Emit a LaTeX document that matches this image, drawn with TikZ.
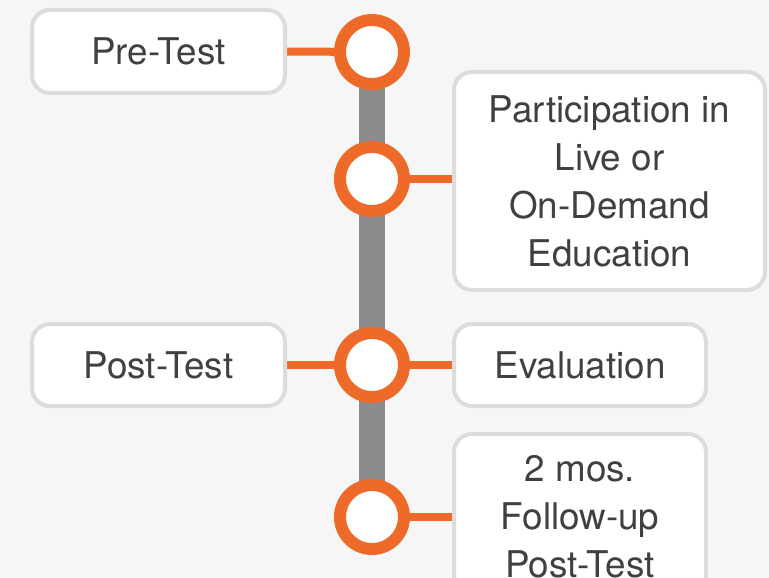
\documentclass[tikz,border=0pt]{standalone}
\usepackage{fontspec}
\setmainfont{TeX Gyre Heros}
\definecolor{pagebg}{HTML}{F6F6F6}
\definecolor{boxline}{HTML}{DCDCDA}
\definecolor{txt}{HTML}{404040}
\definecolor{accent}{HTML}{EE6A28}
\definecolor{spine}{HTML}{8C8C8C}
\pgfdeclarelayer{back}
\pgfdeclarelayer{links}
\pgfsetlayers{back,links,main}
\begin{document}
\begin{tikzpicture}[x=1pt,y=-1pt,
  box/.style={draw=boxline, line width=4pt, fill=white, rounded corners=18pt,
    align=center, text=txt, font=\fontsize{36.8}{48}\selectfont, inner sep=0pt},
  ring/.style={circle, draw=accent, line width=12pt, fill=white,
    minimum size=64pt, inner sep=0pt},
  link/.style={draw=accent, line width=8pt},
  bar/.style={draw=spine, line width=26pt}]
\useasboundingbox (0,0) rectangle (769,578);
\clip (0,0) rectangle (769,578);
\begin{pgfonlayer}{back}
  \fill[pagebg] (0,0) rectangle (769,578);
\end{pgfonlayer}

% timeline stops
\node[ring] (c1) at (372,52) {};
\node[ring] (c2) at (372,179) {};
\node[ring] (c3) at (372,365) {};
\node[ring] (c4) at (372,517) {};

% step boxes
\node[box, minimum width=253pt, minimum height=83pt] (pre) at (158.5,51.5) {Pre-Test};
\node[box, minimum width=311pt, minimum height=218pt] (part) at (609.5,181)
  {Participation in\\Live or\\On-Demand\\Education};
\node[box, minimum width=253pt, minimum height=82pt] (post) at (158.5,365) {Post-Test};
\node[box, minimum width=252pt, minimum height=82pt] (eval) at (580,365) {Evaluation};
\node[box, minimum width=252pt, minimum height=166pt] (follow) at (580,517)
  {2 mos.\\Follow-up\\Post-Test};

% spine and connectors
\begin{pgfonlayer}{links}
  \draw[bar] (c1.center) -- (c4.center);
  \draw[link] (pre.east) -- (c1.center);
  \draw[link] (c2.center) -- (c2.center -| part.west);
  \draw[link] (post.east) -- (c3.center);
  \draw[link] (c3.center) -- (eval.west);
  \draw[link] (c4.center) -- (c4.center -| follow.west);
\end{pgfonlayer}
\end{tikzpicture}
\end{document}
